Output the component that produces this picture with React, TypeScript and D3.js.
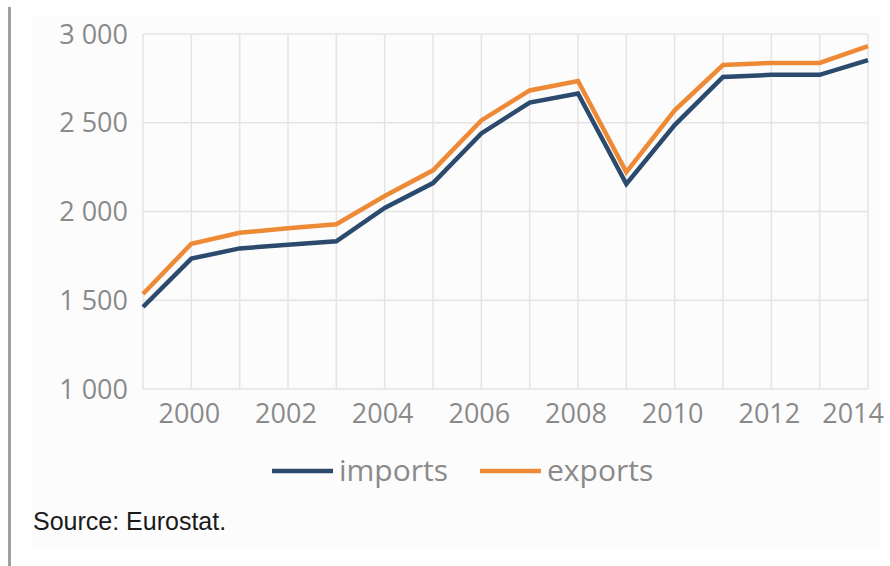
import React from "react";
import * as d3 from "d3";

const years = [1999, 2000, 2001, 2002, 2003, 2004, 2005, 2006, 2007, 2008, 2009, 2010, 2011, 2012, 2013, 2014];
const imports = [1462, 1735, 1792, 1813, 1832, 2020, 2160, 2440, 2614, 2665, 2155, 2487, 2758, 2770, 2770, 2853];
const exports = [1535, 1818, 1880, 1905, 1928, 2087, 2232, 2513, 2682, 2735, 2222, 2570, 2825, 2837, 2837, 2932];
const yTicks = [1000, 1500, 2000, 2500, 3000];
const yTickLabels = ["1 000", "1 500", "2 000", "2 500", "3 000"];
const xTickYears = [2000, 2002, 2004, 2006, 2008, 2010, 2012, 2014];
const seriesNames = ["imports", "exports"];
const colors = ["#2b4a6d", "#ee8a36"];
const sourceText = "Source: Eurostat.";

export default function App() {
  const W = 890, H = 566;
  const x = d3.scaleLinear().domain([1999, 2014]).range([143, 868]);
  const y = d3.scaleLinear().domain([1000, 3000]).range([389, 34]);
  const line = d3.line<number>().x((_, i) => x(years[i])).y((d) => y(d));
  const series = [imports, exports];
  const font = "'Open Sans', sans-serif";
  const legendX = [272, 480];
  return (
    <svg width={W} height={H} style={{ position: "absolute", left: 0, top: 0 }}>
      <rect x={0} y={0} width={W} height={H} fill="#ffffff" />
      <rect x={32} y={15} width={848} height={534} fill="#fcfcfc" />
      <rect x={8} y={7} width={3} height={H - 7} fill="#a0a0a0" />
      {yTicks.map((t) => (
        <line key={"h" + t} x1={x(1999)} x2={x(2014)} y1={y(t)} y2={y(t)} stroke="#e4e4e4" strokeWidth={1.5} />
      ))}
      {years.map((yr) => (
        <line key={"v" + yr} x1={x(yr)} x2={x(yr)} y1={y(3000)} y2={y(1000)} stroke="#e4e4e4" strokeWidth={1.5} />
      ))}
      {yTicks.map((t, i) => (
        <text key={"yl" + t} x={128} y={y(t)} dy="0.36em" textAnchor="end" fontFamily={font} fontSize={27} fill="#8a8a8a">
          {yTickLabels[i]}
        </text>
      ))}
      {xTickYears.map((yr, i) => {
        const last = i === xTickYears.length - 1;
        return (
          <text key={"xl" + yr} x={last ? 884 : x(yr) - 2} y={423} textAnchor={last ? "end" : "middle"} fontFamily={font} fontSize={27} fill="#8a8a8a">
            {yr}
          </text>
        );
      })}
      {series.map((s, i) => (
        <path key={seriesNames[i]} d={line(s) || ""} fill="none" stroke={colors[i]} strokeWidth={4.5} strokeLinejoin="miter" />
      ))}
      {seriesNames.map((n, i) => (
        <g key={"lg" + n}>
          <line x1={legendX[i]} x2={legendX[i] + 61} y1={471} y2={471} stroke={colors[i]} strokeWidth={4.5} />
          <text x={legendX[i] + 67} y={481} fontFamily={font} fontSize={30} fill="#8a8a8a">
            {n}
          </text>
        </g>
      ))}
      <text x={33} y={530} fontFamily="'Liberation Sans', 'Open Sans', sans-serif" fontSize={25} fill="#1a1a1a">
        {sourceText}
      </text>
    </svg>
  );
}
